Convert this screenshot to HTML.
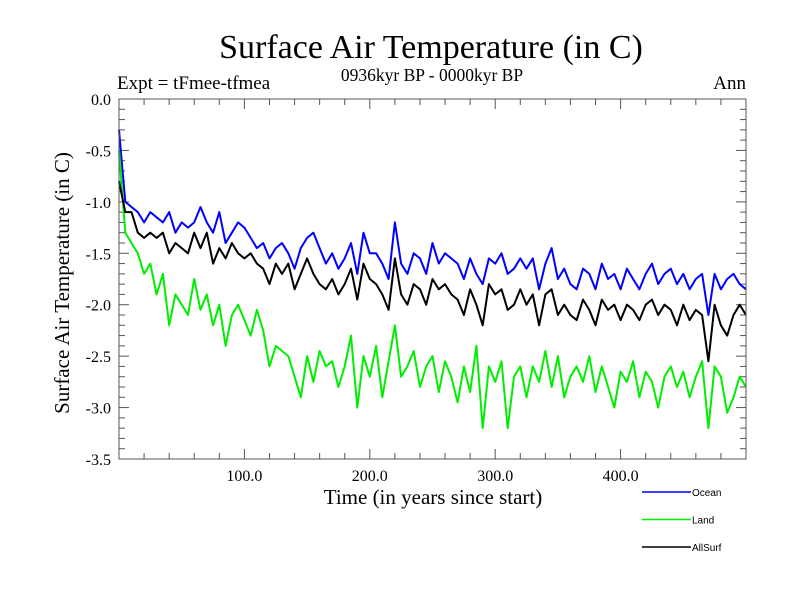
<!DOCTYPE html>
<html><head><meta charset="utf-8"><style>
body{margin:0;background:#fff}svg{display:block}
</style></head><body>
<svg id="chart" width="800" height="600" xmlns="http://www.w3.org/2000/svg">
<rect width="800" height="600" fill="#fff"/>
<text x="431" y="58" font-family="Liberation Serif, serif" font-size="34" text-anchor="middle">Surface Air Temperature (in C)</text>
<text x="117" y="89" font-family="Liberation Serif, serif" font-size="19">Expt = tFmee-tfmea</text>
<text x="432" y="81" font-family="Liberation Serif, serif" font-size="17.5" text-anchor="middle">0936kyr BP - 0000kyr BP</text>
<text x="746" y="89" font-family="Liberation Serif, serif" font-size="19" text-anchor="end">Ann</text>
<text x="433" y="504" font-family="Liberation Serif, serif" font-size="21" text-anchor="middle">Time (in years since start)</text>
<text transform="translate(69,283) rotate(-90)" font-family="Liberation Serif, serif" font-size="21" text-anchor="middle">Surface Air Temperature (in C)</text>
<g id="ticks"></g>
<g id="series"></g>
<rect x="119" y="99" width="627" height="360" fill="none" stroke="#555" stroke-width="1"/>
<g id="legend"></g>
</svg>
<script>
const years=[];for(let i=0;i<=100;i++)years.push(i*5);
const ocean=[-0.3,-1.0,-1.05,-1.1,-1.2,-1.1,-1.15,-1.2,-1.1,-1.3,-1.2,-1.25,-1.2,-1.05,-1.2,-1.3,-1.1,-1.4,-1.3,-1.2,-1.25,-1.35,-1.45,-1.4,-1.55,-1.45,-1.4,-1.5,-1.65,-1.45,-1.35,-1.3,-1.45,-1.6,-1.5,-1.65,-1.55,-1.4,-1.7,-1.3,-1.5,-1.5,-1.6,-1.75,-1.2,-1.6,-1.7,-1.5,-1.55,-1.7,-1.4,-1.6,-1.5,-1.55,-1.6,-1.75,-1.55,-1.7,-1.8,-1.55,-1.6,-1.5,-1.7,-1.65,-1.55,-1.65,-1.55,-1.85,-1.6,-1.45,-1.75,-1.65,-1.8,-1.85,-1.65,-1.7,-1.85,-1.6,-1.75,-1.7,-1.85,-1.65,-1.75,-1.85,-1.7,-1.6,-1.8,-1.7,-1.65,-1.8,-1.7,-1.85,-1.75,-1.7,-2.1,-1.7,-1.85,-1.75,-1.7,-1.8,-1.85];
const land=[-0.5,-1.3,-1.4,-1.5,-1.7,-1.6,-1.9,-1.7,-2.2,-1.9,-2.0,-2.1,-1.75,-2.05,-1.9,-2.2,-2.0,-2.4,-2.1,-2.0,-2.15,-2.3,-2.05,-2.25,-2.6,-2.4,-2.45,-2.5,-2.7,-2.9,-2.5,-2.75,-2.45,-2.6,-2.55,-2.8,-2.6,-2.3,-3.0,-2.5,-2.7,-2.4,-2.9,-2.55,-2.2,-2.7,-2.6,-2.45,-2.8,-2.6,-2.5,-2.85,-2.55,-2.7,-2.95,-2.6,-2.85,-2.4,-3.2,-2.6,-2.75,-2.55,-3.2,-2.7,-2.6,-2.9,-2.6,-2.75,-2.45,-2.8,-2.5,-2.9,-2.7,-2.6,-2.75,-2.5,-2.85,-2.6,-2.8,-3.0,-2.65,-2.75,-2.55,-2.9,-2.65,-2.75,-3.0,-2.7,-2.6,-2.8,-2.65,-2.9,-2.7,-2.55,-3.2,-2.6,-2.7,-3.05,-2.9,-2.7,-2.8];
const allsurf=[-0.8,-1.1,-1.1,-1.3,-1.35,-1.3,-1.35,-1.3,-1.5,-1.4,-1.45,-1.5,-1.3,-1.45,-1.3,-1.6,-1.45,-1.55,-1.4,-1.5,-1.55,-1.5,-1.6,-1.65,-1.8,-1.6,-1.7,-1.6,-1.85,-1.7,-1.55,-1.7,-1.8,-1.85,-1.75,-1.9,-1.8,-1.65,-1.95,-1.6,-1.75,-1.8,-1.9,-2.05,-1.55,-1.9,-2.0,-1.8,-1.85,-2.0,-1.75,-1.85,-1.8,-1.9,-1.95,-2.1,-1.85,-2.0,-2.2,-1.8,-1.9,-1.85,-2.05,-2.0,-1.85,-2.0,-1.9,-2.2,-1.9,-1.85,-2.1,-2.0,-2.1,-2.15,-1.95,-2.05,-2.2,-1.95,-2.05,-2.0,-2.15,-2.0,-2.05,-2.15,-2.0,-1.95,-2.1,-2.0,-2.05,-2.2,-2.0,-2.15,-2.05,-2.1,-2.55,-2.0,-2.2,-2.3,-2.1,-2.0,-2.1];
const yTicks=[0,-0.5,-1,-1.5,-2,-2.5,-3,-3.5];
const yTickLabels=["0.0","-0.5","-1.0","-1.5","-2.0","-2.5","-3.0","-3.5"];
const xTicks=[100,200,300,400];
const xTickLabels=["100.0","200.0","300.0","400.0"];
const seriesNames=["Ocean","Land","AllSurf"];
const seriesColors=["#0000ff","#00ee00","#000000"];
const NS="http://www.w3.org/2000/svg";
const X=v=>119+v*(627/500);
const Y=v=>99-v*(360/3.5);
function mk(t,a,p){const e=document.createElementNS(NS,t);for(const k in a)e.setAttribute(k,a[k]);p.appendChild(e);return e;}
const tg=document.getElementById('ticks');
const font="Liberation Serif, serif";
for(let v=0;v<=500;v+=20){const l=v%100===0?10:6;
 let t=mk('line',{x1:X(v),x2:X(v),y1:459,y2:459-l,stroke:'#555'},tg);
 
 
 t=mk('line',{x1:X(v),x2:X(v),y1:99,y2:99+l,stroke:'#555'},tg);
 
 }
for(let i=0;i<=35;i++){const v=-i/10;const l=i%5===0?10:6;
 let t=mk('line',{x1:119,x2:119+l,y1:Y(v),y2:Y(v),stroke:'#555'},tg);
 
 
 t=mk('line',{x1:746,x2:746-l,y1:Y(v),y2:Y(v),stroke:'#555'},tg);
 
 }
yTicks.forEach((v,i)=>{const t=mk('text',{x:111,y:Y(v)+6,'font-family':font,'font-size':16,'text-anchor':'end'},tg);t.textContent=yTickLabels[i];
 
 });
xTicks.forEach((v,i)=>{const t=mk('text',{x:X(v),y:481,'font-family':font,'font-size':16,'text-anchor':'middle'},tg);t.textContent=xTickLabels[i];
 
 });
const sg=document.getElementById('series');
[ocean,land,allsurf].forEach((arr,si)=>{const d=arr.map((v,i)=>(i?'L':'M')+X(years[i]).toFixed(1)+' '+Y(v).toFixed(1)).join(' ');
 const p=mk('path',{d:d,fill:'none',stroke:seriesColors[si],'stroke-width':2,'stroke-linejoin':'round'},sg);
 
 });
const lg=document.getElementById('legend');
seriesNames.forEach((n,i)=>{const y=492+i*27.5;
 const l=mk('line',{x1:642,x2:691,y1:y,y2:y,stroke:seriesColors[i],'stroke-width':1.5},lg);
 
 
 const t=mk('text',{x:692,y:y+4,'font-family':'Liberation Sans, sans-serif','font-size':10},lg);t.textContent=n;
 
 });
</script>
</body></html>
